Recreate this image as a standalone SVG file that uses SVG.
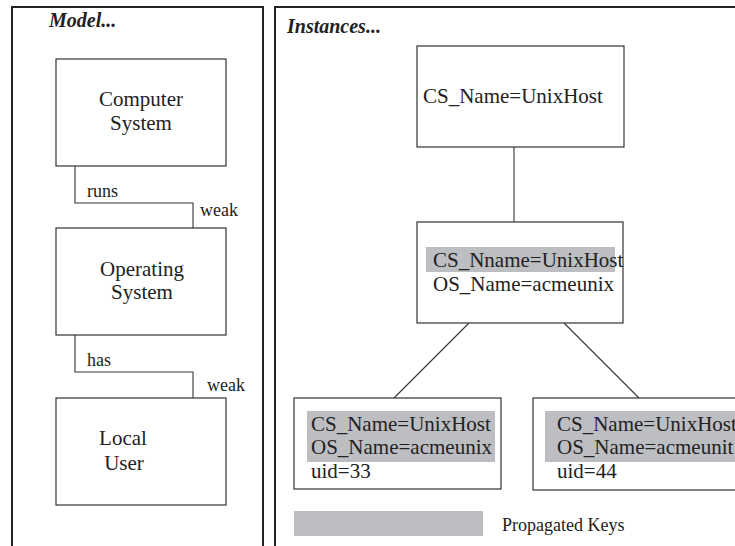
<svg xmlns="http://www.w3.org/2000/svg" width="735" height="546" viewBox="0 0 735 546">
<style>
.panel{fill:none;stroke:#222;stroke-width:2}
.box{fill:#fff;stroke:#333;stroke-width:1.2}
.conn{fill:none;stroke:#333;stroke-width:1.1}
.key{fill:#bdbec2}
text{fill:#222}
.c{text-anchor:middle}
</style>
<rect width="735" height="546" fill="#fff"/>
<g id="model-panel">
<rect class="panel" x="12" y="7" width="251" height="560"/>
<text font-family="Liberation Serif" font-size="20" font-weight="bold" font-style="italic" x="49" y="27">Model...</text>
</g>
<g id="instances-panel">
<rect class="panel" x="275" y="7" width="480" height="560"/>
<text font-family="Liberation Serif" font-size="20" font-weight="bold" font-style="italic" x="287" y="33">Instances...</text>
</g>
<g id="connectors">
<polyline class="conn" points="75,166 75,203 193,203 193,228"/>
<polyline class="conn" points="75,335 75,372 193,372 193,398"/>
<line class="conn" x1="514" y1="147" x2="514" y2="222"/>
<line class="conn" x1="469" y1="323" x2="394" y2="398"/>
<line class="conn" x1="564" y1="323" x2="639" y2="398"/>
<text font-family="Liberation Serif" font-size="18" x="87" y="197">runs</text>
<text font-family="Liberation Serif" font-size="18" x="200" y="216">weak</text>
<text font-family="Liberation Serif" font-size="18" x="87" y="366">has</text>
<text font-family="Liberation Serif" font-size="18" x="207" y="391">weak</text>
</g>
<g id="computer-system">
<rect class="box" x="56" y="59" width="170" height="107"/>
<text class="c" font-family="Liberation Serif" font-size="21" x="141" y="106">Computer</text>
<text class="c" font-family="Liberation Serif" font-size="21" x="141" y="130">System</text>
</g>
<g id="operating-system">
<rect class="box" x="56" y="228" width="170" height="107"/>
<text class="c" font-family="Liberation Serif" font-size="21" x="142" y="276">Operating</text>
<text class="c" font-family="Liberation Serif" font-size="21" x="142" y="299">System</text>
</g>
<g id="local-user">
<rect class="box" x="56" y="398" width="170" height="107"/>
<text class="c" font-family="Liberation Serif" font-size="21" x="123" y="445">Local</text>
<text class="c" font-family="Liberation Serif" font-size="21" x="124" y="470">User</text>
</g>
<g id="cs-instance">
<rect class="box" x="417" y="46" width="207" height="101"/>
<text font-family="Liberation Serif" font-size="21" x="423" y="103">CS_Name=UnixHost</text>
</g>
<g id="os-instance">
<rect class="box" x="417" y="222" width="206" height="101"/>
<rect class="key" x="426" y="247" width="189" height="25"/>
<text font-family="Liberation Serif" font-size="21" x="433" y="267">CS_Nname=UnixHost</text>
<text font-family="Liberation Serif" font-size="21" x="433" y="291">OS_Name=acmeunix</text>
</g>
<g id="user-33">
<rect class="box" x="294" y="398" width="207" height="91"/>
<rect class="key" x="307" y="411" width="188" height="51"/>
<text font-family="Liberation Serif" font-size="21" x="311" y="431">CS_Name=UnixHost</text>
<text font-family="Liberation Serif" font-size="21" x="311" y="454">OS_Name=acmeunix</text>
<text font-family="Liberation Serif" font-size="21" x="311" y="478">uid=33</text>
</g>
<g id="user-44">
<rect class="box" x="533" y="398" width="230" height="92"/>
<rect class="key" x="545" y="411" width="200" height="51"/>
<text font-family="Liberation Serif" font-size="21" x="557" y="431">CS_Name=UnixHost</text>
<text font-family="Liberation Serif" font-size="21" x="557" y="454">OS_Name=acmeunit</text>
<text font-family="Liberation Serif" font-size="21" x="557" y="478">uid=44</text>
</g>
<g id="legend">
<rect class="key" x="294" y="511" width="189" height="25"/>
<text font-family="Liberation Serif" font-size="18" x="502" y="531">Propagated Keys</text>
</g>
</svg>
